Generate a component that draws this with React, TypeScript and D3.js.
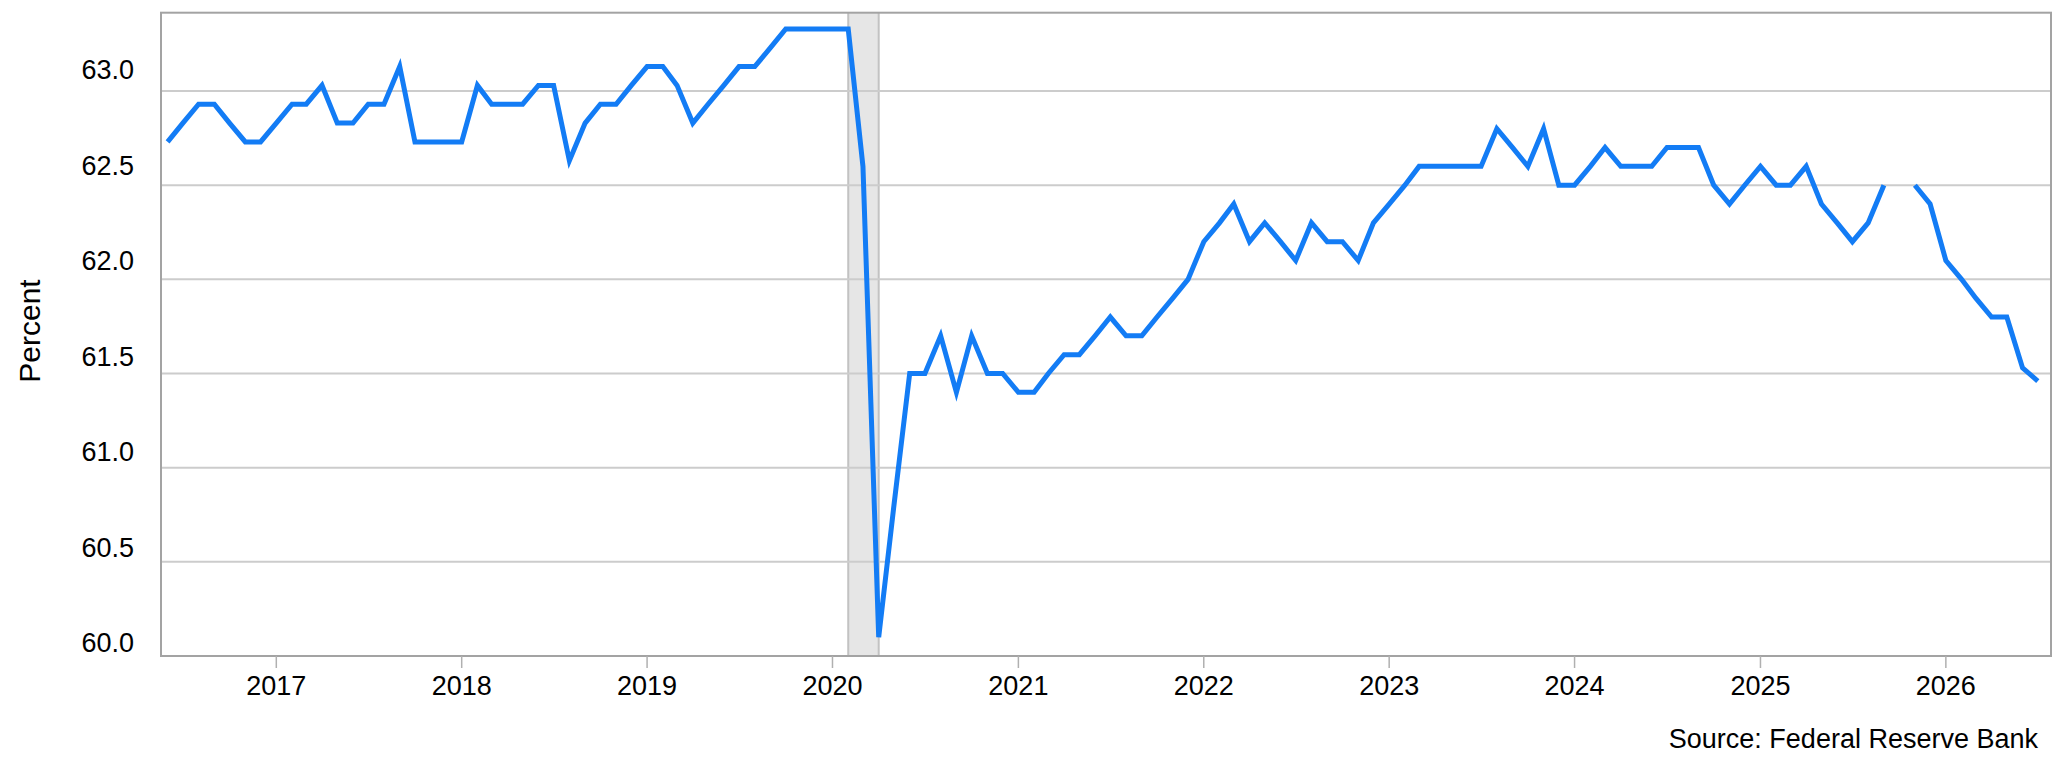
import React, { useEffect, useRef } from 'react';
import * as d3 from 'd3';

// monthly participation rate, one array per year
const firstYear = 2016;
const firstMonth = 5; // June
const rate2016 = [62.73, 62.83, 62.93, 62.93, 62.83, 62.73, 62.73];
const rate2017 = [62.83, 62.93, 62.93, 63.03, 62.83, 62.83, 62.93, 62.93, 63.13, 62.73, 62.73, 62.73];
const rate2018 = [62.73, 63.03, 62.93, 62.93, 62.93, 63.03, 63.03, 62.63, 62.83, 62.93, 62.93, 63.03];
const rate2019 = [63.13, 63.13, 63.03, 62.83, 62.93, 63.03, 63.13, 63.13, 63.23, 63.33, 63.33, 63.33];
const rate2020 = [63.33, 63.33, 62.6, 60.1, 60.8, 61.5, 61.5, 61.7, 61.4, 61.7, 61.5, 61.5];
const rate2021 = [61.4, 61.4, 61.5, 61.6, 61.6, 61.7, 61.8, 61.7, 61.7, 61.8, 61.9, 62.0];
const rate2022 = [62.2, 62.3, 62.4, 62.2, 62.3, 62.2, 62.1, 62.3, 62.2, 62.2, 62.1, 62.3];
const rate2023 = [62.4, 62.5, 62.6, 62.6, 62.6, 62.6, 62.6, 62.8, 62.7, 62.6, 62.8, 62.5];
const rate2024 = [62.5, 62.6, 62.7, 62.6, 62.6, 62.6, 62.7, 62.7, 62.7, 62.5, 62.4, 62.5];
const rate2025 = [62.6, 62.5, 62.5, 62.6, 62.4, 62.3, 62.2, 62.3, 62.5, null, 62.5, 62.4];
const rate2026 = [62.1, 62.0, 61.9, 61.8, 61.8, 61.53, 61.46];

const yearTicks = [2017, 2018, 2019, 2020, 2021, 2022, 2023, 2024, 2025, 2026];
const yTicks = [60.0, 60.5, 61.0, 61.5, 62.0, 62.5, 63.0];
const recession = [new Date(Date.UTC(2020, 1, 1)), new Date(Date.UTC(2020, 3, 1))];

type Point = { date: Date, v: number | null };

const W = 2065, H = 762;
const left = 161, right = 2051, top = 12.7, bottom = 656;
const font = '"Liberation Sans", Arial, Helvetica, sans-serif';

const App = () => {
    const ref = useRef<SVGSVGElement>(null);

    useEffect(() => {
        const svg = d3.select(ref.current);
        svg.selectAll('*').remove();

        const all = [rate2016, rate2017, rate2018, rate2019, rate2020, rate2021,
            rate2022, rate2023, rate2024, rate2025, rate2026];
        const data: Point[] = [];
        all.forEach((arr, yi) => {
            arr.forEach((v, mi) => {
                const m = yi === 0 ? firstMonth + mi : mi;
                data.push({ date: new Date(Date.UTC(firstYear + yi, m, 1)), v });
            });
        });

        const x = d3.scaleUtc()
            .domain([new Date(Date.UTC(2016, 4, 19)), new Date(Date.UTC(2026, 6, 27))])
            .range([left, right]);
        const y = d3.scaleLinear().domain([60, 63.416]).range([bottom, top]);
        // label baselines sit a little above their gridlines
        const yLabel = d3.scaleLinear().domain([60, 63]).range([652, 79]);

        svg.append('rect').attr('width', W).attr('height', H).attr('fill', '#ffffff');

        // recession band
        const x0 = x(recession[0]), x1 = x(recession[1]);
        svg.append('rect')
            .attr('x', x0).attr('y', top)
            .attr('width', x1 - x0).attr('height', bottom - top)
            .attr('fill', '#e6e6e6');
        svg.selectAll('line.rec').data([x0, x1]).enter().append('line')
            .attr('x1', d => d).attr('x2', d => d)
            .attr('y1', top).attr('y2', bottom)
            .attr('stroke', '#c2c2c2').attr('stroke-width', 2);

        // gridlines
        svg.append('g').selectAll('line').data(yTicks).enter().append('line')
            .attr('x1', left).attr('x2', right)
            .attr('y1', d => y(d)).attr('y2', d => y(d))
            .attr('stroke', '#cccccc').attr('stroke-width', 2);

        // frame
        svg.append('rect')
            .attr('x', left).attr('y', top)
            .attr('width', right - left).attr('height', bottom - top)
            .attr('fill', 'none').attr('stroke', '#a3a3a3').attr('stroke-width', 2);

        // y labels
        svg.append('g').selectAll('text').data(yTicks).enter().append('text')
            .attr('x', 134).attr('y', d => yLabel(d))
            .attr('text-anchor', 'end')
            .attr('font-family', font).attr('font-size', 27).attr('fill', '#000')
            .text(d => d3.format('.1f')(d));

        // x ticks + labels
        const xg = svg.append('g');
        yearTicks.forEach(yr => {
            const px = x(new Date(Date.UTC(yr, 0, 1)));
            xg.append('line')
                .attr('x1', px).attr('x2', px).attr('y1', bottom).attr('y2', bottom + 12)
                .attr('stroke', '#b0b0b0').attr('stroke-width', 1.5);
            xg.append('text')
                .attr('x', px).attr('y', 694.5)
                .attr('text-anchor', 'middle')
                .attr('font-family', font).attr('font-size', 27).attr('fill', '#000')
                .text(String(yr));
        });

        // axis title
        svg.append('text')
            .attr('transform', 'translate(40,331) rotate(-90)')
            .attr('text-anchor', 'middle')
            .attr('font-family', font).attr('font-size', 30).attr('fill', '#000')
            .text('Percent');

        // series
        const line = d3.line<Point>()
            .defined(d => d.v != null)
            .x(d => x(d.date))
            .y(d => y(d.v as number));
        svg.append('path')
            .datum(data)
            .attr('d', line)
            .attr('fill', 'none')
            .attr('stroke', '#137cf5')
            .attr('stroke-width', 5);

        svg.append('text')
            .attr('x', 2038).attr('y', 748)
            .attr('text-anchor', 'end')
            .attr('font-family', font).attr('font-size', 27).attr('fill', '#000')
            .text('Source: Federal Reserve Bank');
    }, []);

    return <svg ref={ref} width={W} height={H}
        style={{ position: 'absolute', left: 0, top: 0, display: 'block' }} />;
};

export default App;
